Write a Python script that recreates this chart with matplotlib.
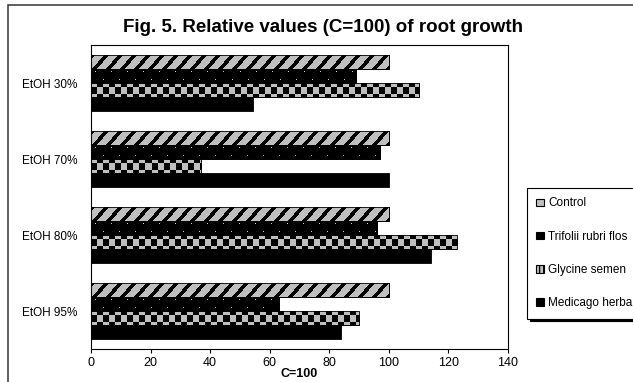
import numpy as np
import matplotlib
matplotlib.use('Agg')
import matplotlib.pyplot as plt
from matplotlib.patches import Rectangle, Patch

plt.rcParams['font.family'] = ['Liberation Sans', 'DejaVu Sans']

categories = ['EtOH 30%', 'EtOH 70%', 'EtOH 80%', 'EtOH 95%']
series = ['Control', 'Trifolii rubri flos', 'Glycine semen', 'Medicago herba']
control = [100, 100, 100, 100]
trifolii = [89, 97, 96, 63]
glycine = [110, 37, 123, 90]
medicago = [54.5, 100, 114, 84]
values = [control, trifolii, glycine, medicago]

GREY = np.array([0.75, 0.75, 0.75])
BLACK = np.array([0.0, 0.0, 0.0])


def pattern(kind, w, h):
    # small pixel fill patterns, like the old excel ones
    ii, jj = np.mgrid[0:h, 0:w]
    if kind == 'stripes':
        mask = ((ii + jj) % 14) < 5
        img = np.where(mask[..., None], BLACK, GREY)
    elif kind == 'dots':
        mask = ((ii == 3) & (jj % 16 == 4)) | ((ii == 10) & (jj % 16 == 12))
        img = np.where(mask[..., None], np.array([0.8, 0.8, 0.8]), BLACK)
    elif kind == 'checker':
        mask = (((ii + 1) // 6 + jj // 6) % 2) == 0
        img = np.where(mask[..., None], GREY, BLACK)
    else:
        img = np.zeros((h, w, 3))
    return img


kinds = ['stripes', 'dots', 'checker', 'solid']

fig = plt.figure(figsize=(6.33, 3.82), dpi=100)
ax_l, ax_b, ax_w, ax_h = 91/633, 1 - 349/382, (508 - 91)/633, (349 - 45)/382
ax = fig.add_axes([ax_l, ax_b, ax_w, ax_h])

xmax = 140
h = 0.185
y = np.arange(len(categories))
px_per_x = ax_w * 633 / xmax
px_per_y = ax_h * 382 / 4.0
for i, vals in enumerate(values):
    offs = (i - 1.5) * h
    bars = ax.barh(y + offs, vals, height=h, color='black', edgecolor='black',
                   linewidth=0.6, label=series[i], zorder=2)
    if kinds[i] == 'solid':
        continue
    for yc, v, bar in zip(y + offs, vals, bars):
        wpx = max(int(round(v * px_per_x)), 1)
        hpx = max(int(round(h * px_per_y)), 1)
        img = pattern(kinds[i], wpx, hpx)
        im = ax.imshow(img, extent=(0, v, yc + h / 2, yc - h / 2), aspect='auto',
                       interpolation='nearest', zorder=2.5)
        im.set_clip_path(bar)
        ax.add_patch(Rectangle((0, yc - h / 2), v, h, fill=False, edgecolor='black',
                               linewidth=0.6, zorder=3))

ax.set_ylim(3.5, -0.5)
ax.set_xlim(0, xmax)
ax.set_xticks(range(0, 141, 20))
ax.set_yticks(y)
ax.set_yticklabels(categories)
ax.tick_params(axis='x', labelsize=9, length=3, direction='out', pad=3)
ax.tick_params(axis='y', labelsize=8.5, length=0, pad=10)
for s in ax.spines.values():
    s.set_linewidth(0.8)
ax.set_xlabel('C=100', fontsize=9, fontweight='bold', labelpad=-1)

fig.text(323/633, 1 - 28/382, 'Fig. 5. Relative values (C=100) of root growth',
         ha='center', va='center', fontsize=13.5, fontweight='bold')

# outer frame
fig.add_artist(Rectangle((8/633, -0.1), 1.2, 1.1 - 5/382, transform=fig.transFigure,
                         fill=False, edgecolor='#444444', linewidth=1.2))

handle_styles = [dict(facecolor='#c0c0c0'),
                 dict(facecolor='black'),
                 dict(facecolor='#c0c0c0', hatch='||||'),
                 dict(facecolor='black')]
handles = [Patch(edgecolor='black', linewidth=0.8, label=series[i], **handle_styles[i])
           for i in range(4)]
leg = fig.legend(handles=handles, loc='upper left',
                 bbox_to_anchor=(527/633, 1 - 188/382), fontsize=8.5,
                 frameon=True, fancybox=False, shadow={'color': 'black', 'alpha': 1},
                 handlelength=0.6, handleheight=0.6, handletextpad=0.4,
                 labelspacing=1.8, borderpad=0.8, borderaxespad=0)
leg.get_frame().set_edgecolor('black')
leg.get_frame().set_linewidth(0.8)

fig.savefig('out.png', dpi=100)
